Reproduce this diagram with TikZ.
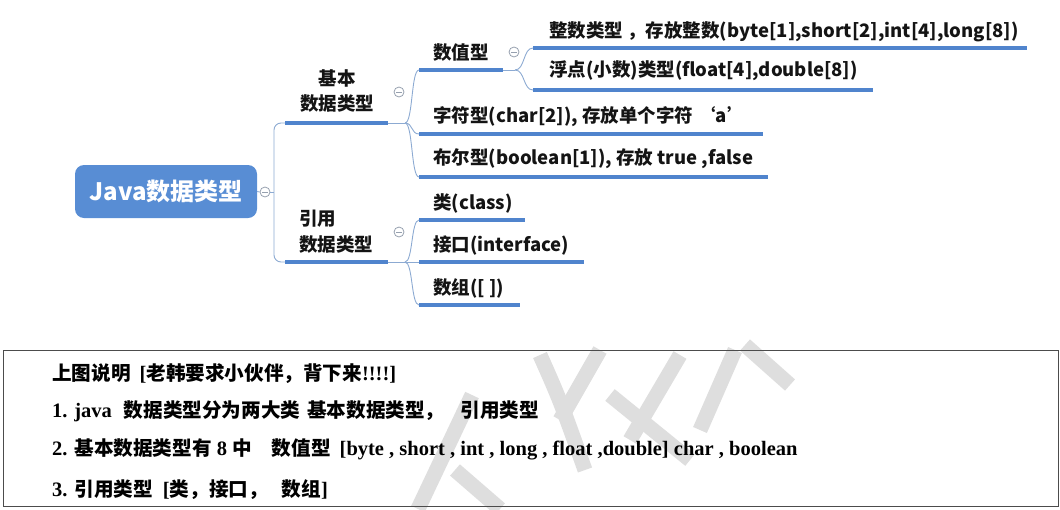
\documentclass[tikz,border=0pt]{standalone}
\usepackage{fontspec}
\setmainfont{Noto Sans CJK SC}
\newfontfamily\tnr{Liberation Serif}
\newcommand\latn[1]{{\tnr\bfseries\fontsize{20.5}{22}\selectfont #1}}
\definecolor{ublue}{RGB}{80,132,205}
\definecolor{cblue}{RGB}{140,170,210}
\definecolor{rootblue}{RGB}{88,141,212}
\definecolor{fgray}{RGB}{150,160,175}
\begin{document}
\begin{tikzpicture}[x=1pt,y=-1pt,
  lbl/.style={anchor=base west, inner sep=0, font=\fontsize{18.5}{22}\selectfont\bfseries, text=black!92},
  uline/.style={draw=ublue, line width=3.5pt},
  conn/.style={draw=cblue, line width=0.9pt},
  fold/.style={circle, draw=fgray, line width=0.8pt, minimum size=10pt, inner sep=0, fill=white,
    path picture={\draw[fgray,line width=0.8pt] ([xshift=-2.6pt]path picture bounding box.center) -- ([xshift=2.6pt]path picture bounding box.center);}},
  note/.style={anchor=base west, inner sep=0, font=\fontsize{19.6}{22}\selectfont\bfseries, text=black},
  wm/.style={draw=black!13, line width=15pt}
]
\useasboundingbox (0,0) rectangle (1060,509);

% watermark
\draw[wm] (418,509) -- (472,395);
\draw[wm] (455,470) -- (500,509);
\draw[wm] (540,355) .. controls (560,400) .. (585,470);
\draw[wm] (600,350) -- (560,420);
\draw[wm] (610,395) -- (690,460);
\draw[wm] (680,355) -- (630,440);
\draw[wm] (745,345) -- (790,385);
\draw[wm] (735,350) -- (700,430);

% root
\node[rounded corners=9pt, fill=rootblue, minimum width=182pt, minimum height=53pt, inner sep=0,
  text=white, font=\fontsize{24}{28}\selectfont\bfseries] (root) at (166,191.5) {Java数据类型};
\node[fold] (f0) at (265,192) {};

% level 1 texts
\node[anchor=base, inner sep=0, font=\fontsize{18.5}{22}\selectfont\bfseries, text=black!92] (jb) at (337,85) {基本};
\node[anchor=base, inner sep=0, font=\fontsize{18.5}{22}\selectfont\bfseries, text=black!92] (jb2) at (337,110) {数据类型};
\node[lbl] (yy) at (299,225) {引用};
\node[lbl] (yy2) at (299,251) {数据类型};
\node[fold] (f1) at (399,92) {};
\node[fold] (f2) at (399,232) {};

% level 2 texts
\node[lbl] (sz) at (433,59) {数值型};
\node[fold] (f3) at (514,52) {};
\node[lbl] (zs) at (549,37) {整数类型 ，存放整数(byte[1],short[2],int[4],long[8])};
\node[lbl] (fd) at (549,76) {浮点(小数)类型(float[4],double[8])};
\node[lbl] (zf) at (433,122) {字符型(char[2]), 存放单个字符 ‘a’};
\node[lbl] (be) at (433,164) {布尔型(boolean[1]), 存放 true ,false};
\node[lbl] (cl) at (433,209) {类(class)};
\node[lbl] (jk) at (433,251) {接口(interface)};
\node[lbl] (sg) at (433,294) {数组([ ])};

% underline coordinates
\coordinate (jbA) at (285,123); \coordinate (jbB) at (388,123);
\coordinate (yyA) at (285,262); \coordinate (yyB) at (388,262);
\coordinate (szA) at (419,70);  \coordinate (szB) at (503,70);
\coordinate (zsA) at (533,48);  \coordinate (zsB) at (1027,48);
\coordinate (fdA) at (533,90);  \coordinate (fdB) at (873,90);
\coordinate (zfA) at (419,134); \coordinate (zfB) at (763,134);
\coordinate (beA) at (419,177); \coordinate (beB) at (768,177);
\coordinate (clA) at (419,220); \coordinate (clB) at (525,220);
\coordinate (jkA) at (419,262); \coordinate (jkB) at (584,262);
\coordinate (sgA) at (419,305); \coordinate (sgB) at (520,305);
\coordinate (j0) at (274,192);
\coordinate (j1) at (405,123);
\coordinate (j2) at (405,262);
\coordinate (j3) at (515,70);

% connectors
\draw[conn] (root.east) -- (f0.west);
\draw[conn] (f0.east) -- (j0);
\draw[conn, rounded corners=7pt] (jbA) -- (jbA -| j0) -- (yyA -| j0) -- (yyA);
\draw[conn] (jbB) -- (j1);
\draw[conn] (yyB) -- (j2);
\draw[conn] (szB) -- (j3);
\draw[conn] (j1) .. controls (413,123) and (411,70) .. (szA);
\draw[conn] (j1) .. controls (413,123) and (411,134) .. (zfA);
\draw[conn] (j1) .. controls (413,123) and (411,177) .. (beA);
\draw[conn] (j2) .. controls (413,262) and (411,220) .. (clA);
\draw[conn] (j2) -- (jkA);
\draw[conn] (j2) .. controls (413,262) and (411,305) .. (sgA);
\draw[conn] (j3) .. controls (525,70) and (523,48) .. (zsA);
\draw[conn] (j3) .. controls (525,70) and (523,90) .. (fdA);

% underlines
\foreach \n in {jb,yy,sz,zs,fd,zf,be,cl,jk,sg}{\draw[uline] (\n A) -- (\n B);}

% bottom box
\draw[line width=1pt, black!70] (3,350) rectangle (1058,506);
\node[note] (n1) at (52,380) {上图说明\hspace{9pt}\latn{[}老韩要求小伙伴，背下来\latn{!!!!]}};
\node[note] (n2) at (52,417) {\latn{1. java}\hspace{12pt}数据类型分为两大类\hspace{7pt}基本数据类型，\hspace{16pt}引用类型};
\node[note] (n3) at (52,455) {\latn{2.}\hspace{7pt}基本数据类型有\latn{\ 8\ }中\hspace{20pt}数值型\hspace{9pt}\latn{[byte , short , int , long , float ,double] char , boolean}};
\node[note] (n4) at (52,496) {\latn{3.}\hspace{7pt}引用类型\hspace{10pt}\latn{[}类，接口，\hspace{14pt}数组\latn{]}};
\end{tikzpicture}
\end{document}
